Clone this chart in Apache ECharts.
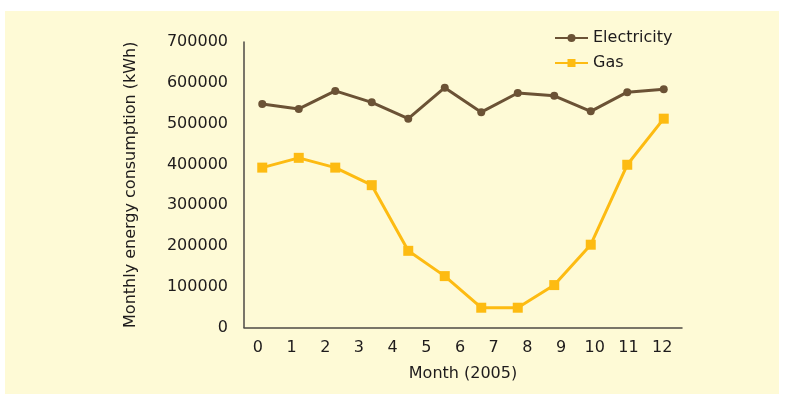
<!DOCTYPE html>
<html>
<head>
<meta charset="utf-8">
<script src="https://cdn.jsdelivr.net/npm/echarts@6/dist/echarts.min.js"></script>
<style>
  html, body { margin: 0; padding: 0; background: #ffffff; }
  #bg { position: absolute; left: 5px; top: 11px; width: 774px; height: 383px; background: #fefad6; }
  #chart { position: absolute; left: 0; top: 0; width: 785px; height: 394px; }
</style>
</head>
<body>
<div id="bg"></div>
<div id="chart"></div>
<script>
const tickLabels = ['0','1','2','3','4','5','6','7','8','9','10','11','12'];
const months = ['Jan','Feb','Mar','Apr','May','Jun','Jul','Aug','Sep','Oct','Nov','Dec'];
const electricity = [548000, 536000, 580000, 552000, 512000, 588000, 528000, 575000, 568000, 530000, 577000, 584000];
const gas = [392000, 416000, 392000, 349000, 188000, 126000, 48500, 48500, 104000, 203000, 399000, 512000];

const chart = echarts.init(document.getElementById('chart'), null, { renderer: 'canvas' });
const font = 'DejaVu Sans';
const textColor = '#1e1b1c';
chart.setOption({
  backgroundColor: 'transparent',
  animation: false,
  textStyle: { fontFamily: font },
  legend: {
    orient: 'vertical',
    left: 549,
    top: 25,
    itemWidth: 33,
    itemHeight: 10,
    itemGap: 9,
    textStyle: { fontFamily: font, fontSize: 16, color: textColor },
    data: ['Electricity', 'Gas']
  },
  grid: { left: 244, right: 103, top: 42, bottom: 66.5, containLabel: false },
  xAxis: [
    {
      type: 'category',
      data: tickLabels,
      boundaryGap: true,
      name: 'Month (2005)',
      nameLocation: 'middle',
      nameGap: 38,
      nameTextStyle: { fontFamily: font, fontSize: 16, color: textColor },
      axisLine: { show: true, lineStyle: { color: '#4d4944', width: 1.5 } },
      axisTick: { show: false },
      axisLabel: { fontFamily: font, fontSize: 16, color: textColor, margin: 12, padding: [0, 6, 0, 0] },
      splitLine: { show: false }
    },
    {
      type: 'category',
      data: months,
      boundaryGap: true,
      show: false
    }
  ],
  yAxis: {
    type: 'value',
    min: 0,
    max: 700000,
    interval: 100000,
    name: 'Monthly energy consumption (kWh)',
    nameLocation: 'middle',
    nameGap: 105,
    nameTextStyle: { fontFamily: font, fontSize: 16, color: textColor },
    axisLine: { show: true, lineStyle: { color: '#4d4944', width: 1.5 } },
    axisTick: { show: false },
    axisLabel: { fontFamily: font, fontSize: 16, color: textColor, margin: 16, formatter: function (v) { return String(v); } },
    splitLine: { show: false }
  },
  series: [
    {
      name: 'Electricity',
      type: 'line',
      xAxisIndex: 1,
      data: electricity,
      symbol: 'circle',
      symbolSize: 8,
      lineStyle: { color: '#6b5235', width: 3 },
      itemStyle: { color: '#6b5235' }
    },
    {
      name: 'Gas',
      type: 'line',
      xAxisIndex: 1,
      data: gas,
      symbol: 'rect',
      symbolSize: 10,
      lineStyle: { color: '#fdbb12', width: 3 },
      itemStyle: { color: '#fdbb12' }
    }
  ]
});
</script>
</body>
</html>
